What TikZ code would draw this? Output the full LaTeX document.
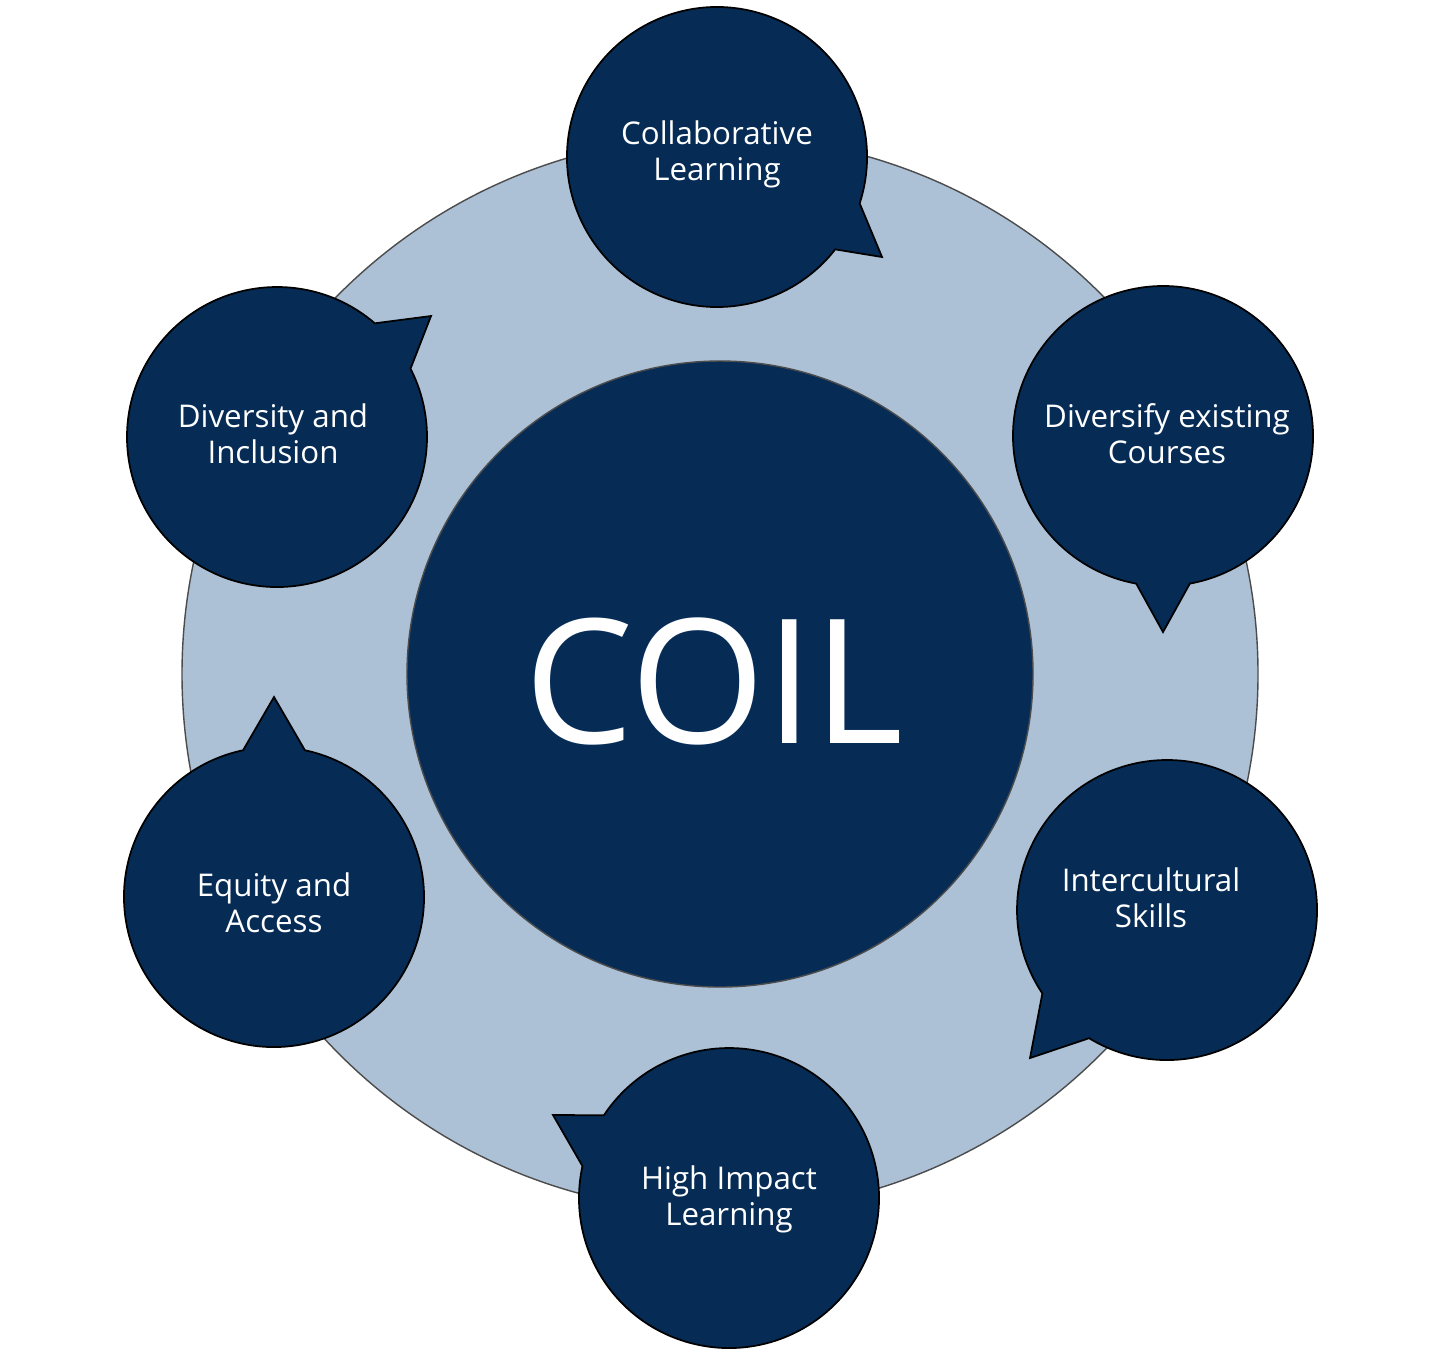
\documentclass[tikz,border=0pt]{standalone}
\usepackage{fontspec}
\setmainfont{Open Sans}
\definecolor{navy}{RGB}{6,44,86}
\definecolor{lightblue}{RGB}{172,192,214}
\begin{document}
\begin{tikzpicture}[x=0.01cm,y=-0.01cm,
  bubble/.style={fill=navy,draw=black,line width=0.5pt},
  lbl/.style={text=white,align=center,font=\fontsize{8.9}{10.2}\selectfont,inner sep=0pt},
  biglbl/.style={text=white,font=\fontsize{49.3}{55}\selectfont,inner sep=0pt}]
\useasboundingbox (0,0) rectangle (1440,1362);
\fill[white] (0,0) rectangle (1440,1362);
% outer ring
\draw[fill=lightblue,draw=black!70,line width=0.4pt] (720,674) circle[radius=538];
% inner circle
\draw[fill=navy,draw=black!70,line width=0.4pt] (720,674) circle[radius=313];
\node[biglbl] (coil) at (714,681) {COIL};
% speech bubbles
\newcommand{\bub}[5]{%
  \draw[bubble] (#1) ++(-#2:150) arc[start angle=-#2,end angle=-#3,radius=150] -- (#4) -- cycle;}
% 1 collaborative
\bub{717,157}{-18}{322}{882,257}{}
\node[lbl] (c1) at (717,154) {Collaborative\\Learning};
% 2 diversify
\bub{1163,436}{-79.7}{259.7}{1163,632}{}
\node[lbl] (c2) at (1167,434) {Diversify existing\\Courses};
% 3 intercultural
\bub{1167,910}{238.7}{573.8}{1030,1058}{}
\node[lbl] (c3) at (1151,898) {Intercultural\\Skills};
% 4 high impact
\bub{729,1198}{167.7}{506.5}{553,1115}{}
\node[lbl] (c4) at (729,1199) {High Impact\\Learning};
% 5 equity
\bub{274,897}{101.9}{438.1}{274,697}{}
\node[lbl] (c5) at (274,903) {Equity and\\Access};
% 6 diversity
\bub{277,437}{49.3}{387.1}{431,316}{}
\node[lbl] (c6) at (273,434) {Diversity and\\Inclusion};
\end{tikzpicture}
\end{document}
